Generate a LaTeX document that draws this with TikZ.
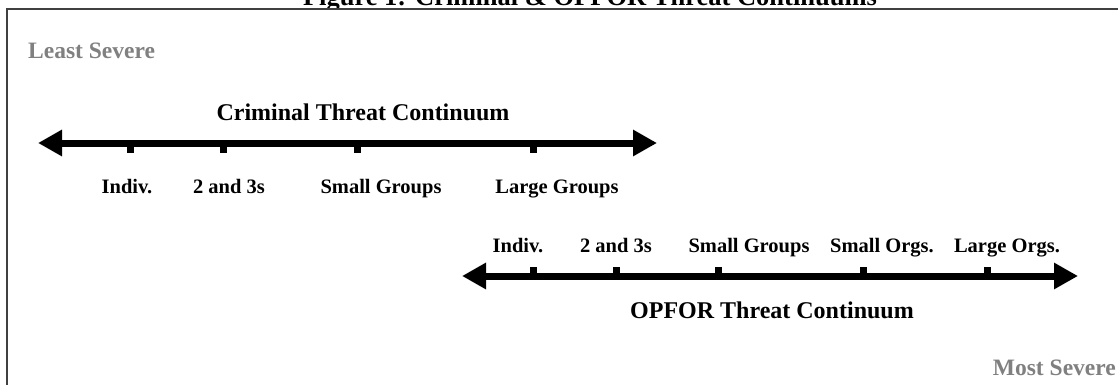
\documentclass[tikz,border=0pt]{standalone}
\usepackage{fontspec}
\setmainfont{Liberation Serif}
\usetikzlibrary{arrows.meta}
\definecolor{framegray}{HTML}{404040}
\definecolor{sevgray}{HTML}{808080}
\tikzset{
  axisline/.style={line width=7pt, {Triangle[length=24pt,width=25pt]}-{Triangle[length=24pt,width=25pt]}},
  tickmark/.style={fill=black},
  lbl/.style={inner sep=0pt, anchor=base, font=\fontsize{20.5}{24}\selectfont\bfseries},
  ttl/.style={inner sep=0pt, anchor=base, font=\fontsize{24}{28}\selectfont\bfseries},
  sev/.style={inner sep=0pt, anchor=base west, text=sevgray, font=\fontsize{23.5}{28}\selectfont\bfseries},
  frameline/.style={draw=framegray, line width=2pt}
}
\begin{document}
\begin{tikzpicture}[x=1pt,y=-1pt]
\useasboundingbox (0,0) rectangle (1118,385);
\fill[white] (0,0) rectangle (1118,385);
% cut-off figure title
\begin{scope}
\clip (0,0) rectangle (1118,8);
\node[ttl, font=\fontsize{26.5}{30}\selectfont\bfseries] (figtitle) at (590,5.5) {Figure 1: Criminal \& OPFOR Threat Continuums};
\end{scope}
% frame
\coordinate (fTL) at (7,9.5);
\coordinate (fTR) at (1118,9.5);
\coordinate (fBL) at (7,385);
\draw[frameline] (fTR) -- (fTL) -- (fBL);
% severity labels
\node[sev] (least) at (28,59) {Least Severe};
\node[sev, anchor=base east] (most) at (1116,375) {Most Severe};
% criminal continuum
\node[ttl] (crimtitle) at (363,121) {Criminal Threat Continuum};
\coordinate (cL) at (38,143);
\coordinate (cR) at (657,143);
\draw[axisline] (cL) -- (cR);
\foreach \x in {130.5,223,357,533}{
  \fill[tickmark] (\x-3.5,143) rectangle (\x+3.5,153);
}
\node[lbl] (c1) at (127,193) {Indiv.};
\node[lbl] (c2) at (229,193) {2 and 3s};
\node[lbl] (c3) at (381,193) {Small Groups};
\node[lbl] (c4) at (557,193) {Large Groups};
% OPFOR continuum
\coordinate (oL) at (462,276);
\coordinate (oR) at (1078,276);
\draw[axisline] (oL) -- (oR);
\foreach \x in {533,616,718,863,987}{
  \fill[tickmark] (\x-3.5,267) rectangle (\x+3.5,276);
}
\node[lbl] (o1) at (518,252) {Indiv.};
\node[lbl] (o2) at (616,252) {2 and 3s};
\node[lbl] (o3) at (749,252) {Small Groups};
\node[lbl] (o4) at (882,252) {Small Orgs.};
\node[lbl] (o5) at (1007,252) {Large Orgs.};
\node[ttl] (optitle) at (772,318) {OPFOR Threat Continuum};
\end{tikzpicture}
\end{document}
